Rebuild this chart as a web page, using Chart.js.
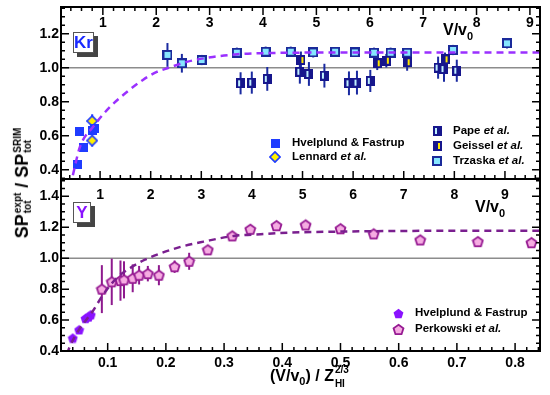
<!DOCTYPE html>
<html>
<head>
<meta charset="utf-8">
<script src="https://cdn.jsdelivr.net/npm/chart.js@4.4.0/dist/chart.umd.min.js"></script>
<style>
    html, body { margin: 0; padding: 0; background: #fff; }
    #wrap { position: relative; width: 550px; height: 395px; overflow: hidden; }
    #top { position: absolute; left: 0; top: 0; }
    #bot { position: absolute; left: 0; top: 160px; }
    #ytitle {
        position: absolute; left: 23px; top: 183px;
        transform: translate(-50%, -50%) rotate(-90deg);
        font: bold 18px "Liberation Sans", Arial, sans-serif;
        white-space: nowrap; line-height: 1; color: #000;
    }
    #ytitle .st {
        display: inline-flex; flex-direction: column; font-size: 10px;
        line-height: 1; vertical-align: middle; margin-left: 1px;
    }
</style>
</head>
<body>
<div id="wrap">
    <canvas id="top" width="550" height="186"></canvas>
    <canvas id="bot" width="550" height="235"></canvas>
    <div id="ytitle">SP<span class="st"><span>expt</span><span>tot</span></span> / SP<span class="st"><span>SRIM</span><span>tot</span></span></div>
</div>
<script>
const Z23_KR = Math.pow(36, 2 / 3);
const Z23_Y = Math.pow(39, 2 / 3);
const X_MIN = 0.0198, X_MAX = 0.8428;

// Kr panel, x read as V/v0
const krHvelV = [0.52, 0.57, 0.63, 0.80, 0.85];
const krHvelR = [0.43, 0.625, 0.53, 0.63, 0.645];
const krHvelE = [0.015, 0.02, 0.015, 0.02, 0.02];

const krLenV = [0.80, 0.80];
const krLenR = [0.686, 0.571];
const krLenE = [0.04, 0.03];

const krPapeV = [3.58, 3.79, 4.08, 4.69, 4.86, 5.15, 5.61, 5.76, 6.01, 7.28, 7.39, 7.63];
const krPapeR = [0.908, 0.912, 0.934, 0.976, 0.963, 0.953, 0.908, 0.912, 0.922, 1.0, 0.992, 0.982];
const krPapeE = [0.065, 0.065, 0.07, 0.07, 0.07, 0.07, 0.07, 0.07, 0.065, 0.065, 0.075, 0.065];

const krGeisV = [4.71, 6.14, 6.31, 6.70, 7.41];
const krGeisR = [1.045, 1.026, 1.041, 1.032, 1.049];
const krGeisE = [0.05, 0.04, 0.04, 0.05, 0.04];

const krTrzV = [2.21, 2.48, 2.85, 3.51, 4.05, 4.52, 4.94, 5.35, 5.72, 6.08, 6.39, 6.70, 7.56, 8.57];
const krTrzR = [1.075, 1.026, 1.045, 1.088, 1.094, 1.094, 1.09, 1.094, 1.09, 1.088, 1.088, 1.088, 1.104, 1.143];
const krTrzE = [0.07, 0.055, 0.03, 0.03, 0.03, 0.03, 0.03, 0.025, 0.025, 0.03, 0.03, 0.025, 0.03, 0.03];

const krFitV = [0.38, 0.42, 0.57, 0.83, 1.13, 1.45, 1.75, 2.01, 2.22, 2.57, 3.06, 3.57, 4.07, 5.0, 6.0, 9.3];
const krFitR = [0.30, 0.345, 0.533, 0.657, 0.768, 0.857, 0.928, 0.975, 0.998, 1.034, 1.063, 1.08, 1.086, 1.089, 1.09, 1.09];

// Y panel, x read as (V/v0)/Z^(2/3)
const yHvelX = [0.040, 0.051, 0.062, 0.067, 0.071];
const yHvelR = [0.484, 0.537, 0.611, 0.62, 0.634];
const yHvelE = [0.015, 0.015, 0.02, 0.02, 0.02];

const yPerkX = [0.090, 0.107, 0.122, 0.128, 0.143, 0.154, 0.169, 0.188, 0.215, 0.240, 0.272, 0.314, 0.345, 0.390, 0.440, 0.500, 0.557, 0.637, 0.736, 0.828];
const yPerkR = [0.80, 0.847, 0.855, 0.86, 0.87, 0.89, 0.90, 0.89, 0.945, 0.98, 1.054, 1.144, 1.187, 1.21, 1.215, 1.19, 1.157, 1.118, 1.107, 1.10];
const yPerkE = [0.155, 0.15, 0.13, 0.12, 0.09, 0.06, 0.05, 0.065, 0.04, 0.055, 0.012, 0.01, 0.01, 0.01, 0.01, 0.01, 0.01, 0.01, 0.01, 0.01];

const yFitX = [0.030, 0.035, 0.052, 0.074, 0.092, 0.115, 0.138, 0.164, 0.19, 0.225, 0.265, 0.317, 0.363, 0.409, 0.5, 0.6, 0.85];
const yFitR = [0.38, 0.43, 0.545, 0.655, 0.763, 0.87, 0.935, 0.99, 1.03, 1.073, 1.107, 1.144, 1.155, 1.165, 1.172, 1.176, 1.178];

const yTicksKr = [0.4, 0.6, 0.8, 1.0, 1.2];
const yTicksY = [0.4, 0.6, 0.8, 1.0, 1.2, 1.4];
const xTicks = [0.1, 0.2, 0.3, 0.4, 0.5, 0.6, 0.7, 0.8];
const vTicks = [1, 2, 3, 4, 5, 6, 7, 8, 9];

const FONT = '"Liberation Sans", Arial, sans-serif';

// marker images
function marker(w, h, draw) {
    const c = document.createElement('canvas');
    c.width = w; c.height = h;
    draw(c.getContext('2d'), w, h);
    return c;
}
function pentagon(g, cx, cy, r) {
    g.beginPath();
    for (let k = 0; k < 5; k++) {
        const a = -Math.PI / 2 + k * 2 * Math.PI / 5;
        const px = cx + r * Math.cos(a), py = cy + r * Math.sin(a);
        if (k) g.lineTo(px, py); else g.moveTo(px, py);
    }
    g.closePath();
}
const imgKrHvel = marker(9, 9, (g, w, h) => { g.fillStyle = '#1f3cff'; g.fillRect(0, 0, w, h); });
const imgLen = marker(12, 12, (g) => {
    g.beginPath(); g.moveTo(6, 0.9); g.lineTo(11.1, 6); g.lineTo(6, 11.1); g.lineTo(0.9, 6); g.closePath();
    g.fillStyle = '#fff000'; g.fill(); g.strokeStyle = '#1f3cff'; g.lineWidth = 1.7; g.stroke();
});
const imgPape = marker(9, 10, (g, w, h) => {
    g.fillStyle = '#16168c'; g.fillRect(0, 0, w, h);
    g.fillStyle = '#bff0ff'; g.fillRect(2, 2, 2, h - 4);
});
const imgGeis = marker(9, 10, (g, w, h) => {
    g.fillStyle = '#16168c'; g.fillRect(0, 0, w, h);
    g.fillStyle = '#ffe800'; g.fillRect(5, 2, 2, h - 4);
});
const imgTrz = marker(10, 10, (g, w, h) => {
    g.fillStyle = '#1a2a9a'; g.fillRect(0, 0, w, h);
    g.fillStyle = '#86e6ff'; g.fillRect(2, 2, w - 4, h - 4);
});
const imgYHvel = marker(11, 11, (g) => { pentagon(g, 5.5, 6, 5.2); g.fillStyle = '#8a12ff'; g.fill(); });
const imgPerk = marker(13, 13, (g) => {
    pentagon(g, 6.5, 7, 5.2); g.fillStyle = '#f6ace2'; g.fill();
    g.strokeStyle = '#961a92'; g.lineWidth = 1.8; g.stroke();
});

function pts(xs, ys, div) {
    return xs.map((x, i) => ({ x: x / div, y: ys[i] }));
}
function scatterSet(label, xs, ys, errs, div, img, errColor) {
    return { label: label, data: pts(xs, ys, div), pointStyle: img, pointRadius: 5, errors: errs, errColor: errColor };
}
function fitSet(xs, ys, div, color) {
    return {
        label: 'fit', data: pts(xs, ys, div), showLine: true, pointRadius: 0, borderColor: color,
        borderWidth: 2.5, borderDash: [7, 5], cubicInterpolationMode: 'monotone', fill: false
    };
}

function drawText(ctx, parts, x, y) {
    // parts: [text, size, dy, italic]
    let cx = x;
    parts.forEach(p => {
        ctx.font = (p[3] ? 'italic ' : '') + 'bold ' + p[1] + 'px ' + FONT;
        ctx.fillText(p[0], cx, y + p[2]);
        cx += ctx.measureText(p[0]).width;
    });
    return cx;
}

function panelPlugin(p) {
    return {
        id: 'panel',
        beforeDatasetsDraw(chart) {
            const ctx = chart.ctx, a = chart.chartArea, x = chart.scales.x, y = chart.scales.y;
            ctx.save();
            ctx.beginPath(); ctx.rect(a.left, a.top, a.right - a.left, a.bottom - a.top); ctx.clip();
            ctx.strokeStyle = '#8c8c8c'; ctx.lineWidth = 1.5;
            const y1 = y.getPixelForValue(1);
            ctx.beginPath(); ctx.moveTo(a.left, y1); ctx.lineTo(a.right, y1); ctx.stroke();
            chart.data.datasets.forEach(ds => {
                if (!ds.errors) return;
                ctx.strokeStyle = ds.errColor; ctx.lineWidth = 2;
                ds.data.forEach((pt, j) => {
                    const px = x.getPixelForValue(pt.x);
                    ctx.beginPath();
                    ctx.moveTo(px, y.getPixelForValue(pt.y - ds.errors[j]));
                    ctx.lineTo(px, y.getPixelForValue(pt.y + ds.errors[j]));
                    ctx.stroke();
                });
            });
            ctx.restore();
        },
        afterDraw(chart) {
            const ctx = chart.ctx, a = chart.chartArea, x = chart.scales.x, y = chart.scales.y;
            ctx.save();
            ctx.strokeStyle = '#000'; ctx.fillStyle = '#000';
            ctx.lineWidth = 2;
            ctx.strokeRect(a.left, a.top, a.right - a.left, a.bottom - a.top);

            // y ticks on both sides
            ctx.lineWidth = 1.5;
            for (let k = Math.ceil(y.min / 0.05); k * 0.05 <= y.max; k++) {
                const py = y.getPixelForValue(k * 0.05);
                const len = (k % 4 === 0) ? 8 : 4;
                ctx.beginPath();
                ctx.moveTo(a.left, py); ctx.lineTo(a.left + len, py);
                ctx.moveTo(a.right, py); ctx.lineTo(a.right - len, py);
                ctx.stroke();
            }
            // V/v0 ticks along the top edge
            for (let k = 1; k <= 50; k++) {
                const px = x.getPixelForValue(k * 0.2 / p.z23);
                if (px <= a.left || px >= a.right) continue;
                const len = (k % 5 === 0) ? 8 : 4;
                ctx.beginPath(); ctx.moveTo(px, a.top); ctx.lineTo(px, a.top + p.vDir * len); ctx.stroke();
            }
            // reduced-velocity ticks along the bottom edge
            if (p.xLabels) {
                for (let k = 1; k * 0.02 <= x.max; k++) {
                    const px = x.getPixelForValue(k * 0.02);
                    const len = (k % 5 === 0) ? 8 : 4;
                    ctx.beginPath(); ctx.moveTo(px, a.bottom); ctx.lineTo(px, a.bottom - len); ctx.stroke();
                }
            }

            ctx.font = 'bold 14px ' + FONT;
            ctx.textAlign = 'right'; ctx.textBaseline = 'middle';
            p.yTicks.forEach(v => ctx.fillText(v.toFixed(1), a.left - 2, y.getPixelForValue(v)));
            ctx.textAlign = 'center';
            vTicks.forEach(v => {
                const px = x.getPixelForValue(v / p.z23);
                if (px < a.right) ctx.fillText(String(v), px, a.top + 16);
            });
            if (p.xLabels) {
                ctx.textBaseline = 'top';
                xTicks.forEach(v => ctx.fillText(v.toFixed(1), x.getPixelForValue(v), a.bottom + 5));
            }

            // V/v0 label
            ctx.textAlign = 'left'; ctx.textBaseline = 'middle';
            drawText(ctx, [['V/v', 16, 0], ['0', 11, 6]], p.vTitle[0], p.vTitle[1]);

            // element box
            const b = p.box;
            ctx.fillStyle = '#444';
            ctx.fillRect(b.x + 4, b.y + 4, b.w, b.h);
            ctx.fillStyle = '#fff';
            ctx.fillRect(b.x, b.y, b.w, b.h);
            ctx.strokeStyle = '#555'; ctx.lineWidth = 1;
            ctx.strokeRect(b.x + 0.5, b.y + 0.5, b.w - 1, b.h - 1);
            ctx.fillStyle = b.color; ctx.textAlign = 'center';
            ctx.font = 'bold 17px ' + FONT;
            ctx.fillText(b.text, b.x + b.w / 2, b.y + b.h / 2 + 1);

            // legend
            ctx.fillStyle = '#000'; ctx.textAlign = 'left';
            p.legend.forEach(e => {
                ctx.drawImage(e.img, Math.round(e.x - e.img.width / 2), Math.round(e.y - e.img.height / 2));
                const parts = [[e.text, 11.5, 0]];
                if (e.it) parts.push([e.it, 11.5, 0, true]);
                drawText(ctx, parts, e.tx, e.y);
            });

            // bottom axis title
            if (p.xTitle) {
                const tx = p.xTitle[0], ty = p.xTitle[1];
                let cx = drawText(ctx, [['(V/v', 16, 0], ['0', 11, 5], [') / Z', 16, 0]], tx, ty);
                ctx.font = 'bold 10px ' + FONT;
                ctx.fillText('2/3', cx + 1, ty - 7);
                ctx.fillText('HI', cx + 1, ty + 7);
            }
            ctx.restore();
        }
    };
}

function makeChart(id, datasets, yMin, yMax, pad, plugin) {
    return new Chart(document.getElementById(id), {
        type: 'scatter',
        data: { datasets: datasets },
        options: {
            responsive: false,
            animation: false,
            layout: { padding: pad },
            plugins: { legend: { display: false }, tooltip: { enabled: false } },
            scales: {
                x: { type: 'linear', min: X_MIN, max: X_MAX, display: false },
                y: { type: 'linear', min: yMin, max: yMax, display: false }
            }
        },
        plugins: [plugin]
    });
}

const ERR_BLUE = '#1a2aa0';

makeChart('top', [
    fitSet(krFitV, krFitR, Z23_KR, '#9b30ff'),
    scatterSet('Pape et al.', krPapeV, krPapeR, krPapeE, Z23_KR, imgPape, ERR_BLUE),
    scatterSet('Geissel et al.', krGeisV, krGeisR, krGeisE, Z23_KR, imgGeis, ERR_BLUE),
    scatterSet('Trzaska et al.', krTrzV, krTrzR, krTrzE, Z23_KR, imgTrz, ERR_BLUE),
    scatterSet('Hvelplund & Fastrup', krHvelV, krHvelR, krHvelE, Z23_KR, imgKrHvel, '#1f3cff'),
    scatterSet('Lennard et al.', krLenV, krLenR, krLenE, Z23_KR, imgLen, '#1f3cff')
], 0.345, 1.357, { left: 61, right: 10, top: 7, bottom: 7 }, panelPlugin({
    z23: Z23_KR, vDir: 1, yTicks: yTicksKr, xLabels: false,
    vTitle: [443, 31],
    box: { x: 73, y: 32, w: 21, h: 21, text: 'Kr', color: '#1a2aff' },
    legend: [
        { img: imgKrHvel, x: 275, y: 143, tx: 292, text: 'Hvelplund & Fastrup' },
        { img: imgLen, x: 275, y: 157, tx: 292, text: 'Lennard ', it: 'et al.' },
        { img: imgPape, x: 437, y: 131, tx: 453, text: 'Pape ', it: 'et al.' },
        { img: imgGeis, x: 437, y: 146, tx: 453, text: 'Geissel ', it: 'et al.' },
        { img: imgTrz, x: 437, y: 161, tx: 453, text: 'Trzaska ', it: 'et al.' }
    ]
}));

makeChart('bot', [
    fitSet(yFitX, yFitR, 1, '#7a1f8f'),
    scatterSet('Perkowski et al.', yPerkX, yPerkR, yPerkE, 1, imgPerk, '#8e1a8e'),
    scatterSet('Hvelplund & Fastrup', yHvelX, yHvelR, yHvelE, 1, imgYHvel, '#8a12ff')
], 0.4, 1.512, { left: 61, right: 10, top: 19, bottom: 44 }, panelPlugin({
    z23: Z23_Y, vDir: -1, yTicks: yTicksY, xLabels: true,
    vTitle: [475, 48],
    box: { x: 73, y: 42, w: 18, h: 21, text: 'Y', color: '#8a12ff' },
    legend: [
        { img: imgYHvel, x: 398, y: 153, tx: 415, text: 'Hvelplund & Fastrup' },
        { img: imgPerk, x: 398, y: 169, tx: 415, text: 'Perkowski ', it: 'et al.' }
    ],
    xTitle: [270, 217]
}));
</script>
</body>
</html>
